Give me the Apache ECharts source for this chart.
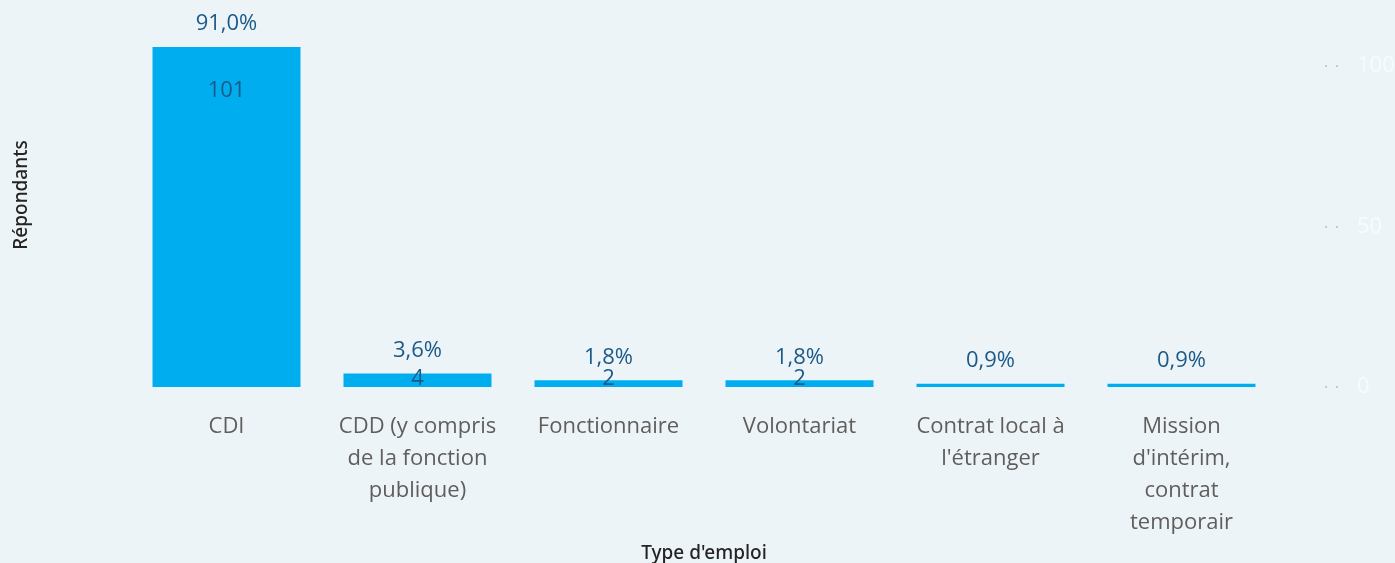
<!DOCTYPE html>
<html>
<head>
<meta charset="utf-8">
<script src="https://cdn.jsdelivr.net/npm/echarts@6/dist/echarts.min.js"></script>
<style>
  html, body { margin: 0; padding: 0; background: #edf4f8; }
  #chart { width: 1395px; height: 563px; }
</style>
</head>
<body>
<div id="chart"></div>
<script>
// data
const categories = [
  "CDI",
  "CDD (y compris\nde la fonction\npublique)",
  "Fonctionnaire",
  "Volontariat",
  "Contrat local à\nl'étranger",
  "Mission\nd'intérim,\ncontrat\ntemporair"
];
const counts = [101, 4, 2, 2, 1, 1];
const percents = [91.0, 3.6, 1.8, 1.8, 0.9, 0.9];
const rightTicks = [0, 50, 100];

const barColor = "#00adef";
const labelColor = "#1b5a88";
const font = "'Open Sans', 'Noto Sans', sans-serif";

let chart = echarts.init(document.getElementById("chart"));

// count label: inside the top of tall bars, sitting on the baseline for short ones, hidden for 1
let countData = counts.map(function (v) {
  if (v >= 10) {
    return { value: v, label: { show: true, position: "insideTop", distance: 33 } };
  }
  if (v >= 2) {
    return { value: v, label: { show: true, position: "insideBottom", distance: -3 } };
  }
  return { value: v, label: { show: false } };
});

chart.setOption({
  backgroundColor: "#edf4f8",
  animation: false,
  grid: { left: 131, right: 118, top: 47, bottom: 176, outerBoundsMode: "none", containLabel: false },
  xAxis: {
    type: "category",
    data: categories,
    axisLine: { show: false },
    axisTick: { show: false },
    axisLabel: {
      color: "#605e5c",
      fontFamily: font,
      fontSize: 22,
      lineHeight: 32,
      margin: 24,
      interval: 0
    },
    name: "Type d'emploi",
    nameLocation: "middle",
    nameGap: 152,
    nameTextStyle: { color: "#252423", fontFamily: "'Noto Sans', sans-serif", fontSize: 19, fontWeight: 500 }
  },
  yAxis: [
    {
      type: "value",
      min: 0,
      max: 101,
      position: "left",
      axisLine: { show: false },
      axisTick: { show: false },
      axisLabel: { show: false },
      splitLine: { show: false },
      name: "Répondants",
      nameLocation: "middle",
      nameGap: 100,
      nameRotate: 90,
      nameTextStyle: { color: "#252423", fontFamily: "'Noto Sans', sans-serif", fontSize: 19, fontWeight: 500, padding: [0, 0, 0, 44] }
    },
    {
      type: "value",
      min: 0,
      max: 105.9,
      interval: 50,
      position: "right",
      offset: 48,
      axisLine: { show: false },
      axisTick: {
        show: true,
        length: 15,
        lineStyle: { color: "#c8c8c8", width: 2, type: [2, 9] }
      },
      axisLabel: {
        color: "#f7fbfd",
        fontFamily: font,
        fontSize: 22,
        margin: 32,
        showMaxLabel: false,
        formatter: function (v) { return rightTicks.indexOf(v) >= 0 ? String(v) : ""; }
      },
      splitLine: { show: false }
    }
  ],
  series: [
    {
      type: "bar",
      data: countData,
      barWidth: 148,
      itemStyle: { color: barColor },
      label: { color: labelColor, fontFamily: font, fontSize: 22 },
      z: 2
    },
    {
      type: "bar",
      data: counts,
      barWidth: 148,
      barGap: "-100%",
      itemStyle: { color: "transparent" },
      label: {
        show: true,
        position: "top",
        distance: 12,
        color: labelColor,
        fontFamily: font,
        fontSize: 22,
        formatter: function (p) { return percents[p.dataIndex].toFixed(1).replace(".", ",") + "%"; }
      },
      z: 3
    }
  ]
});
</script>
</body>
</html>
